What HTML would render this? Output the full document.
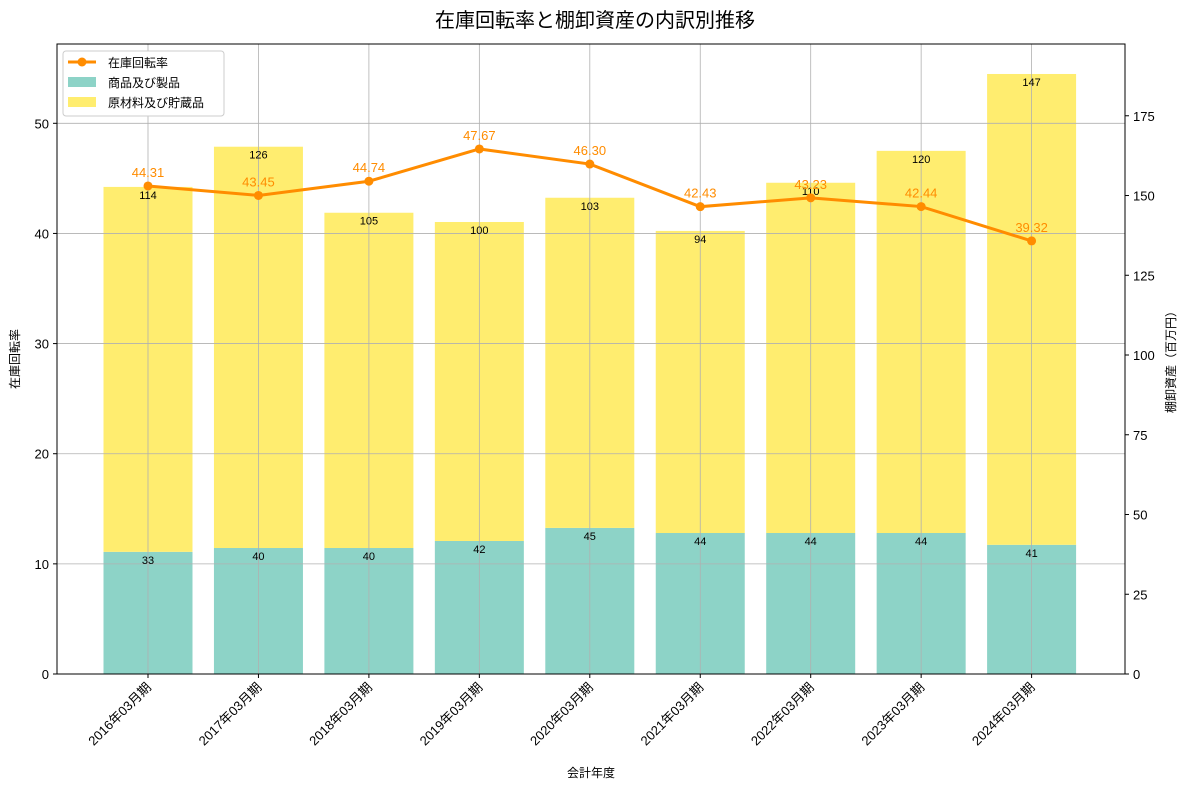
<!DOCTYPE html>
<html><head><meta charset="utf-8">
<style>
body{margin:0;background:#fff;}
svg{font-family:"Liberation Sans","Noto Sans CJK JP",sans-serif;}
</style></head>
<body>
<svg id="chart" width="1190" height="789" viewBox="0 0 1190 789"></svg>
<script>
const categories=["2016年03月期","2017年03月期","2018年03月期","2019年03月期","2020年03月期","2021年03月期","2022年03月期","2023年03月期","2024年03月期"];
const goodsValues=[38.3,39.5,39.5,41.7,45.8,44.2,44.2,44.2,40.5];
const materialsValues=[114.4,125.8,105.1,100,103.5,94.7,109.8,119.8,147.6];
const goodsLabels=["33","40","40","42","45","44","44","44","41"];
const materialsLabels=["114","126","105","100","103","94","110","120","147"];
const turnover=[44.31,43.45,44.74,47.67,46.30,42.43,43.23,42.44,39.32];
const leftTicks=[0,10,20,30,40,50];
const rightTicks=[0,25,50,75,100,125,150,175];

const NS="http://www.w3.org/2000/svg";
const svg=document.getElementById('chart');
const L=57,R=1125,T=44,B=674;
const yL=v=>B-v*(B-T)/57.2;
const yR=v=>B-v*(B-T)/197.5;
const step=110.45;
const xc=i=>148+i*step;
function el(tag,attrs,txt){const e=document.createElementNS(NS,tag);for(const k in attrs)e.setAttribute(k,attrs[k]);if(txt!==undefined)e.textContent=txt;svg.appendChild(e);return e;}

el('text',{x:595,y:27,'text-anchor':'middle','font-size':20,fill:'#000',},'在庫回転率と棚卸資産の内訳別推移');

// bars
categories.forEach((c,i)=>{
  const g=goodsValues[i],m=materialsValues[i];
  const b1=el('rect',{x:xc(i)-44.5,y:yR(g),width:89,height:B-yR(g),fill:'#8dd3c7'});
  
  
  const b2=el('rect',{x:xc(i)-44.5,y:yR(g+m),width:89,height:yR(g)-yR(g+m),fill:'#ffed6f'});
  
  
});
// grid
leftTicks.forEach(v=>{el('line',{x1:L,x2:R,y1:yL(v),y2:yL(v),stroke:'#b0b0b0','stroke-width':0.8});});
categories.forEach((c,i)=>{el('line',{x1:xc(i),x2:xc(i),y1:T,y2:B,stroke:'#b0b0b0','stroke-width':0.8});});
// bar labels
categories.forEach((c,i)=>{
  const g=goodsValues[i],m=materialsValues[i];
  const t1=el('text',{x:xc(i),y:yR(g)+12,'text-anchor':'middle','font-size':11,fill:'#000'},goodsLabels[i]);
  
  
  const t2=el('text',{x:xc(i),y:yR(g+m)+12,'text-anchor':'middle','font-size':11,fill:'#000'},materialsLabels[i]);
  
  
});
// line
const pl=el('polyline',{points:turnover.map((v,i)=>xc(i)+','+yL(v)).join(' '),fill:'none',stroke:'#ff8c00','stroke-width':3});


turnover.forEach((v,i)=>{
  const p=el('circle',{cx:xc(i),cy:yL(v),r:4.5,fill:'#ff8c00'});
  
  
  const t=el('text',{x:xc(i),y:yL(v)-9,'text-anchor':'middle','font-size':13,fill:'#ff8c00'},v.toFixed(2));
  
  
});
// frame
el('rect',{x:L,y:T,width:R-L,height:B-T,fill:'none',stroke:'#000','stroke-width':1});
// left ticks
leftTicks.forEach(v=>{
  el('line',{x1:L-4,x2:L,y1:yL(v),y2:yL(v),stroke:'#000'});
  const t=el('text',{x:L-8,y:yL(v)+5,'text-anchor':'end','font-size':13,fill:'#000'},String(v));
  
  
});
rightTicks.forEach(v=>{
  el('line',{x1:R,x2:R+4,y1:yR(v),y2:yR(v),stroke:'#000'});
  const t=el('text',{x:R+8,y:yR(v)+5,'text-anchor':'start','font-size':13,fill:'#000'},String(v));
  
  
});
categories.forEach((c,i)=>{
  el('line',{x1:xc(i),x2:xc(i),y1:B,y2:B+4,stroke:'#000'});
  const t=el('text',{x:xc(i)+4,y:B+14,'text-anchor':'end','font-size':13,fill:'#000',transform:`rotate(-45 ${xc(i)+4} ${B+14})`},c);
  
  
});
el('text',{x:591,y:777,'text-anchor':'middle','font-size':12,fill:'#000',},'会計年度');
el('text',{x:19,y:359,'text-anchor':'middle','font-size':12,fill:'#000',transform:'rotate(-90 19 359)',},'在庫回転率');
el('text',{x:1175,y:359,'text-anchor':'middle','font-size':12,fill:'#000',transform:'rotate(-90 1175 359)',},'棚卸資産（百万円）');
// legend
el('rect',{x:63,y:51,width:161,height:65,fill:'#fff',stroke:'#ccc',rx:3,});
el('line',{x1:68,x2:96,y1:62,y2:62,stroke:'#ff8c00','stroke-width':3});
el('circle',{cx:82,cy:62,r:4.5,fill:'#ff8c00'});
el('text',{x:108,y:67,'font-size':12,fill:'#000',},'在庫回転率');
el('rect',{x:68,y:77,width:28,height:10,fill:'#8dd3c7'});
el('text',{x:108,y:87,'font-size':12,fill:'#000',},'商品及び製品');
el('rect',{x:68,y:97,width:28,height:10,fill:'#ffed6f'});
el('text',{x:108,y:107,'font-size':12,fill:'#000',},'原材料及び貯蔵品');
</script>
</body></html>
